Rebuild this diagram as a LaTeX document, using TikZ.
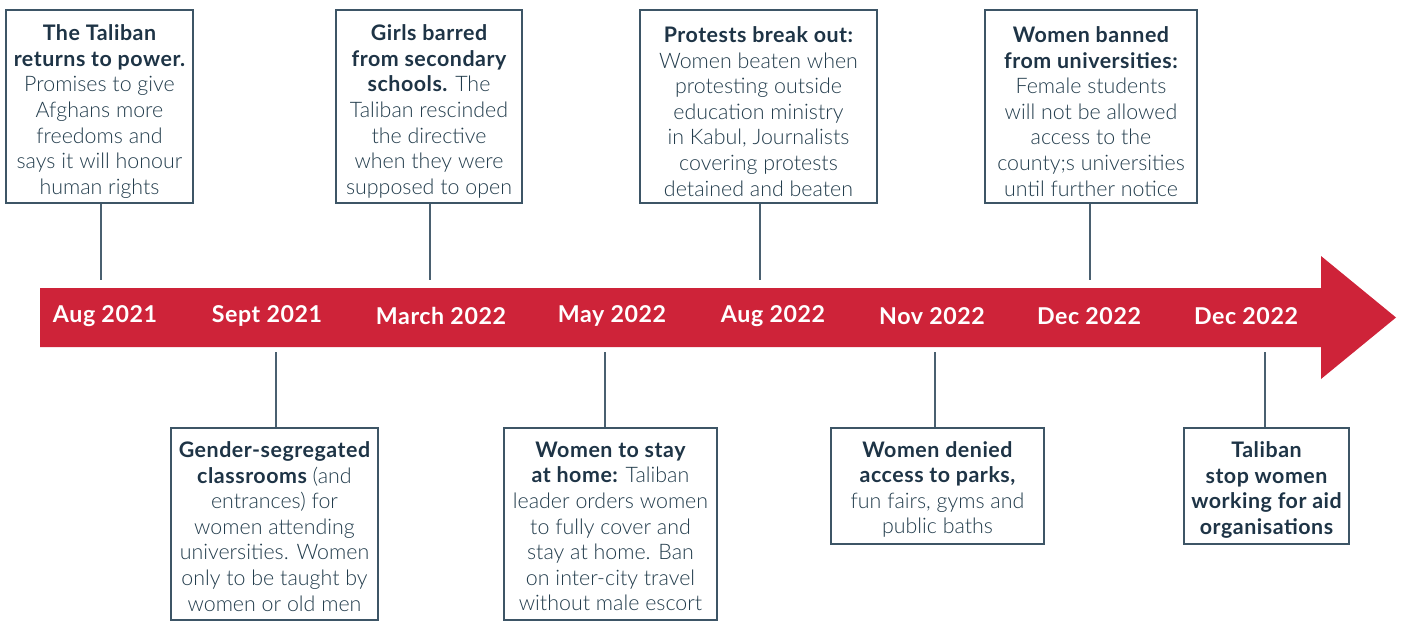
\documentclass[tikz,border=0pt]{standalone}
\usepackage{fontspec}
\setmainfont{Lato Light}[BoldFont={Lato Bold},BoldFeatures={LetterSpace=2.5}]
\begin{document}
\definecolor{bandred}{HTML}{CE2339}
\definecolor{ink}{HTML}{1E3446}
\definecolor{softink}{HTML}{223C4C}
\definecolor{frame}{HTML}{3D5566}
\definecolor{stem}{HTML}{4A6070}
\begin{tikzpicture}[x=1pt,y=-1pt,
  event/.style={draw=frame,line width=1.4pt,fill=white,inner sep=0pt},
  eventtext/.style={align=center,inner sep=0pt,text=softink,
    font=\fontsize{21.4}{25.6}\selectfont},
  datelabel/.style={text=white,font=\fontsize{23.2}{26}\bfseries\selectfont,inner sep=0pt},
  stemline/.style={draw=stem,line width=1.4pt}]
\useasboundingbox (0,0) rectangle (1403,621);
% timeline band with arrow head
\fill[bandred] (40,288) -- (1321,288) -- (1321,256) -- (1396,317.5)
  -- (1321,379) -- (1321,347) -- (40,347) -- cycle;
% dates along the band
\node[datelabel] (d1) at (105,316) {Aug 2021};
\node[datelabel] (d2) at (267,316) {Sept 2021};
\node[datelabel] (d3) at (441,316) {March 2022};
\node[datelabel] (d4) at (612,316) {May 2022};
\node[datelabel] (d5) at (773,316) {Aug 2022};
\node[datelabel] (d6) at (932,316) {Nov 2022};
\node[datelabel] (d7) at (1089,316) {Dec 2022};
\node[datelabel] (d8) at (1246,316) {Dec 2022};
% stem end points on the band
\coordinate (t1) at (101,280);
\coordinate (t2) at (276,352);
\coordinate (t3) at (430,280);
\coordinate (t4) at (605,352);
\coordinate (t5) at (760,280);
\coordinate (t6) at (935,352);
\coordinate (t7) at (1090,280);
\coordinate (t8) at (1265,352);
% event frames
\node[event,minimum width=187,minimum height=193] (b1) at (99.5,106.5) {};
\node[event,minimum width=186,minimum height=193] (b3) at (429,106.5) {};
\node[event,minimum width=237,minimum height=193] (b5) at (758.5,106.5) {};
\node[event,minimum width=212,minimum height=193] (b7) at (1091,106.5) {};
\node[event,minimum width=207,minimum height=192] (b2) at (274.5,524) {};
\node[event,minimum width=213,minimum height=192] (b4) at (610.5,524) {};
\node[event,minimum width=213,minimum height=116] (b6) at (937.5,486) {};
\node[event,minimum width=165,minimum height=116] (b8) at (1266.5,486) {};
% event texts
\node[eventtext] (x1) at ([yshift=-5pt]b1.center)
  {\textbf{\color{ink}The Taliban}\\\textbf{\color{ink}returns to power.}\\Promises to give\\Afghans more\\freedoms and\\says it will honour\\human rights};
\node[eventtext] (x3) at ([yshift=-5pt]b3.center)
  {\textbf{\color{ink}Girls barred}\\\textbf{\color{ink}from secondary}\\\textbf{\color{ink}schools.} The\\Taliban rescinded\\the directive\\when they were\\supposed to open};
\node[eventtext] (x5) at ([yshift=-5pt]b5.center)
  {\textbf{\color{ink}Protests break out:}\\Women beaten when\\protesting outside\\education ministry\\in Kabul, Journalists\\covering protests\\detained and beaten};
\node[eventtext] (x7) at ([yshift=-5pt]b7.center)
  {\textbf{\color{ink}Women banned}\\\textbf{\color{ink}from universities:}\\Female students\\will not be allowed\\access to the\\county;s universities\\until further notice};
\node[eventtext] (x2) at ([yshift=-2.5pt]b2.center)
  {\textbf{\color{ink}Gender-segregated}\\\textbf{\color{ink}classrooms} (and\\entrances) for\\women attending\\universities. Women\\only to be taught by\\women or old men};
\node[eventtext] (x4) at ([yshift=-2.5pt]b4.center)
  {\textbf{\color{ink}Women to stay}\\\textbf{\color{ink}at home:} Taliban\\leader orders women\\to fully cover and\\stay at home. Ban\\on inter-city travel\\without male escort};
\node[eventtext] (x6) at ([yshift=-3.5pt]b6.center)
  {\textbf{\color{ink}Women denied}\\\textbf{\color{ink}access to parks,}\\fun fairs, gyms and\\public baths};
\node[eventtext] (x8) at ([yshift=-4pt]b8.center)
  {\textbf{\color{ink}Taliban}\\\textbf{\color{ink}stop women}\\\textbf{\color{ink}working for aid}\\\textbf{\color{ink}organisations}};
% stems joining events to the band
\foreach \i in {1,3,5,7} \draw[stemline] (t\i |- b\i.south) -- (t\i);
\foreach \i in {2,4,6,8} \draw[stemline] (t\i) -- (t\i |- b\i.north);
\end{tikzpicture}
\end{document}
